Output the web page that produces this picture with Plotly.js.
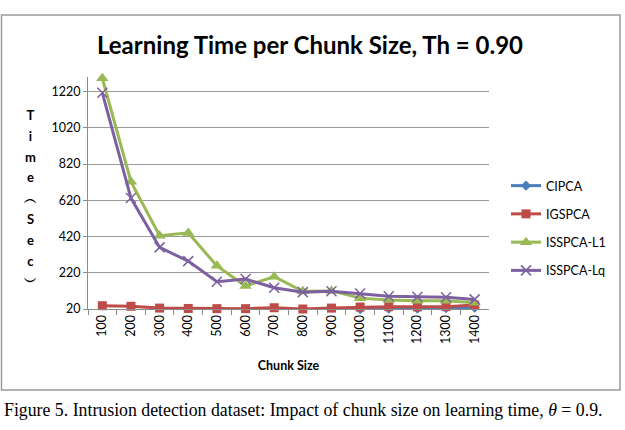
<!DOCTYPE html>
<html>
<head>
<meta charset="utf-8">
<script src="https://cdn.plot.ly/plotly-3.0.1.min.js"></script>
<style>
  html, body { margin: 0; padding: 0; background: #fff; }
  #chart { width: 625px; height: 430px; }
</style>
</head>
<body>
<div id="chart"></div>
<script>
// Chunk sizes on the category axis
const chunkSizes = ['100', '200', '300', '400', '500', '600', '700', '800', '900', '1000', '1100', '1200', '1300', '1400'];

// Learning time (sec) for each method
const cipca    = [10, 12, 15, 15, 15, 15, 18, 15, 18, 20, 22, 22, 25, 28];
const igspca   = [38, 35, 25, 23, 22, 22, 27, 20, 25, 31, 33, 32, 33, 42];
const isspcaL1 = [1293, 722, 424, 440, 258, 147, 198, 118, 120, 80, 70, 65, 65, 55];
const isspcaLq = [1213, 632, 360, 284, 170, 185, 137, 113, 118, 105, 90, 88, 85, 73];

const yTicks = [20, 220, 420, 620, 820, 1020, 1220];

const W = 625, H = 430;
const FONT = 'Lato, "Open Sans", sans-serif';

function series(name, y, color, symbol, size, extra) {
  return Object.assign({
    type: 'scatter',
    mode: 'lines+markers',
    name: name,
    legendgroup: name,
    x: chunkSizes,
    y: y,
    cliponaxis: false,
    line: { color: color, width: 3 },
    marker: { color: color, symbol: symbol, size: size }
  }, extra || {});
}

const traces = [
  series('CIPCA', cipca, '#4A7EBB', 'diamond', 8),
  series('IGSPCA', igspca, '#BE4B48', 'square', 9),
  series('ISSPCA-L1', isspcaL1, '#98B954', 'triangle-up', 11),
  series('ISSPCA-Lq', isspcaLq, '#7D60A0', 'x-thin', 10,
    { marker: { color: '#7D60A0', symbol: 'x-thin', size: 10, line: { color: '#7D60A0', width: 1.5 } } })
];

// stacked vertical axis label "Time (Sec)"
const yLabelChars = ['T', 'i', 'm', 'e', '︵', 'S', 'e', 'c', '︶'];
const yLabel = yLabelChars.map(c => '<span style="font-size:13px">' + c + '</span>').join('<br>');

const layout = {
  width: W,
  height: H,
  margin: { l: 0, r: 0, t: 0, b: 0 },
  paper_bgcolor: '#ffffff',
  plot_bgcolor: '#ffffff',
  font: { family: FONT, size: 12, color: '#000000' },
  showlegend: true,
  title: {
    text: '<b>Learning Time per Chunk Size, Th = 0.90</b>',
    font: { family: FONT, size: 24, color: '#000000' },
    x: 310 / W, xanchor: 'center', xref: 'paper',
    y: 1 - 46 / H, yanchor: 'middle', yref: 'paper'
  },
  xaxis: {
    type: 'category',
    domain: [88 / W, 489 / W],
    range: [-0.5, chunkSizes.length - 0.5],
    showgrid: false,
    showline: true,
    linecolor: '#8C8C8C',
    linewidth: 1,
    ticks: 'outside',
    tickson: 'boundaries',
    ticklen: 5,
    tickcolor: '#8C8C8C',
    tickangle: -90,
    tickfont: { family: FONT, size: 12.5, color: '#000000' },
    zeroline: false,
    title: {
      text: '<b>Chunk Size</b>',
      font: { family: FONT, size: 12.5, color: '#000000' },
      standoff: 18
    }
  },
  yaxis: {
    domain: [1 - 309 / H, 1 - 77 / H],
    range: [20, 1300],
    tickmode: 'array',
    tickvals: yTicks,
    ticktext: yTicks.map(String),
    showgrid: true,
    gridcolor: '#9A9A9A',
    gridwidth: 1,
    showline: true,
    linecolor: '#8C8C8C',
    linewidth: 1,
    ticks: 'outside',
    ticklen: 4,
    tickcolor: '#8C8C8C',
    tickfont: { family: FONT, size: 12.5, color: '#000000' },
    zeroline: false
  },
  legend: {
    x: 506 / W, xanchor: 'left',
    y: 1 - 171 / H, yanchor: 'top',
    bgcolor: 'rgba(0,0,0,0)',
    font: { family: FONT, size: 12.5, color: '#000000' },
    tracegroupgap: 9,
    itemwidth: 30
  },
  shapes: [
    {
      type: 'rect', xref: 'paper', yref: 'paper',
      x0: 1.5 / W, x1: 620 / W, y0: 1 - 390 / H, y1: 1 - 15 / H,
      line: { color: '#9A9A9A', width: 1.5 },
      fillcolor: 'rgba(0,0,0,0)', layer: 'below'
    }
  ],
  annotations: [
    {
      xref: 'paper', yref: 'paper',
      x: 30 / W, y: 1 - 198 / H, xanchor: 'center', yanchor: 'middle',
      text: '<b>' + yLabel + '</b>',
      showarrow: false,
      font: { family: FONT, size: 16, color: '#000000' }
    },
    {
      xref: 'paper', yref: 'paper',
      x: 2 / W, y: 1 - 410 / H, xanchor: 'left', yanchor: 'middle',
      text: 'Figure 5. Intrusion detection dataset: Impact of chunk size on learning time, <i>θ</i> = 0.9.',
      showarrow: false,
      font: { family: '"Liberation Serif", "Times New Roman", serif', size: 17.8, color: '#000000' }
    }
  ]
};

Plotly.newPlot('chart', traces, layout, { staticPlot: true, displayModeBar: false });
</script>
</body>
</html>
